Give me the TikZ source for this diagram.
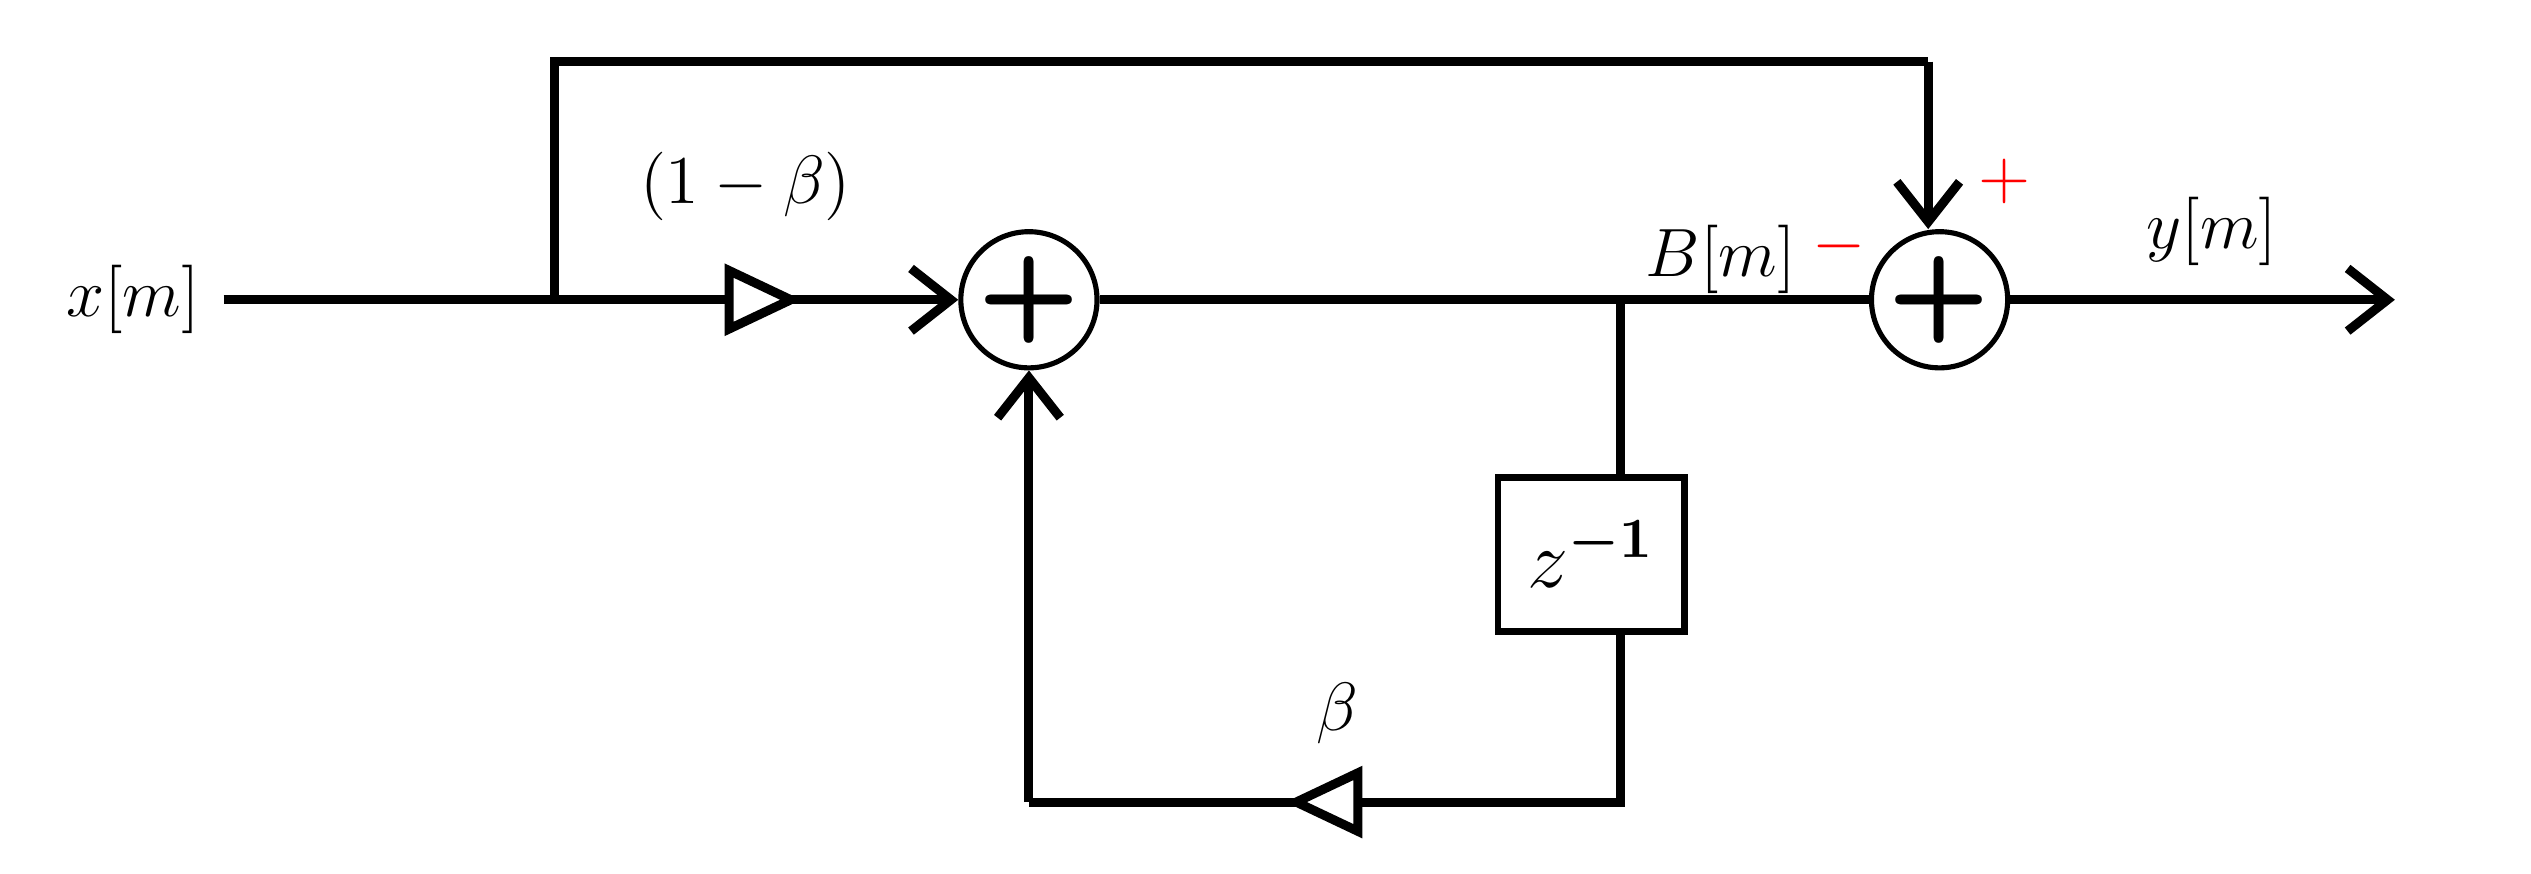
\documentclass[tikz,border=0pt]{standalone}
\usepackage{amsmath}
\usetikzlibrary{arrows.meta}
\begin{document}
\begin{tikzpicture}[x=0.01cm,y=-0.01cm,line width=1.6pt,
  sum/.style={circle,draw,line width=0.9pt,minimum size=0.84cm,inner sep=0pt,font=\huge\sffamily\bfseries},
  arr/.style={-{Straight Barb[length=7pt,width=11pt]}},
  lbl/.style={font=\large}]
\useasboundingbox (0,0) rectangle (1562,539);
\node[lbl,anchor=east] (x) at (138,185) {$x[m]$};
\node[sum] (s1) at (635,185) {+};
\node[sum] (s2) at (1197,185) {+};
\node[draw,line width=1.2pt,minimum width=1.15cm,minimum height=0.95cm,font=\Large] (d) at (982,342) {$z^{\boldsymbol{-1}}$};
\coordinate (j1) at (342,185);
\coordinate (j2) at (1000,185);
\coordinate (o) at (1478,185);
\coordinate (t1) at (342,38);
\coordinate (t2) at (1190,38);
\coordinate (b1) at (1000,495);
\coordinate (b2) at (635,495);
\draw (x.east) -- (j1);
\draw[arr] (j1) -- (s1.west);
\draw (j1) -- (t1) -- (t2);
\draw[arr] (t2) -- (t2 |- s2.north);
\draw (s1.east) -- (s2.west);
\draw[arr] (s2.east) -- (o);
\draw (j2) -- (d.north -| j2);
\draw (d.south -| b1) -- (b1) -- (b2);
\draw[arr] (b2) -- (s1.south);
\draw[fill=white,line width=1.6pt] (450,167) -- (488,185) -- (450,203) -- cycle;
\draw[fill=white,line width=1.6pt] (838,477) -- (800,495) -- (838,513) -- cycle;
\node[lbl] (l1) at (460,115) {$(1-\beta)$};
\node[lbl] (l2) at (1062,160) {$B[m]$};
\node[font=\large,text=red] (l3) at (1135,152) {$-$};
\node[font=\large,text=red] (l4) at (1237,112) {$+$};
\node[lbl] (l5) at (1365,143) {$y[m]$};
\node[lbl] (l6) at (825,440) {$\beta$};
\end{tikzpicture}
\end{document}
